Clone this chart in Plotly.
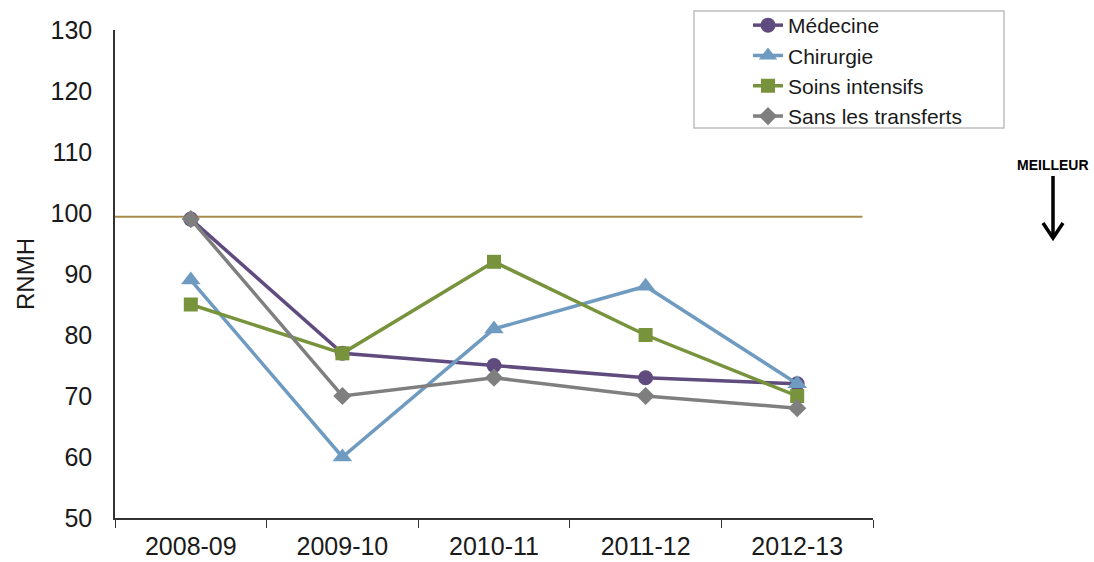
import plotly.graph_objects as go

categories = ["2008-09", "2009-10", "2010-11", "2011-12", "2012-13"]
medecine = [99, 77, 75, 73, 72]
chirurgie = [89, 60, 81, 88, 72]
soins_intensifs = [85, 77, 92, 80, 70]
sans_transferts = [99, 70, 73, 70, 68]
ref_level = 99.4
y_ticks = [50, 60, 70, 80, 90, 100, 110, 120, 130]

series = [
    ("Médecine", medecine, "#5F4B7E", "circle", 15),
    ("Chirurgie", chirurgie, "#6F9BC0", "triangle-up", 17),
    ("Soins intensifs", soins_intensifs, "#77933C", "square", 14),
    ("Sans les transferts", sans_transferts, "#7F7F7F", "diamond", 14),
]

W, H = 1094, 562
L, R, T, B = 115, 873, 30, 518

def px(x):
    return (x - L) / (R - L)

def py(y):
    return (B - y) / (B - T)

fig = go.Figure()
for name, vals, color, sym, size in series:
    fig.add_trace(go.Scatter(
        x=categories, y=vals, name=name, mode="lines+markers",
        line=dict(color=color, width=3.5),
        marker=dict(symbol=sym, size=size, color=color),
    ))

# reference line
fig.add_shape(type="line", xref="x", yref="y", x0=-0.5, x1=4.43,
              y0=ref_level, y1=ref_level, line=dict(color="#A88A4A", width=2), layer="below")

# legend box
fig.add_shape(type="rect", xref="paper", yref="paper",
              x0=px(694), x1=px(1004), y0=py(11), y1=py(128),
              line=dict(color="#BFBFBF", width=1.5), fillcolor="white", layer="below")

# arrow "MEILLEUR"
fig.add_shape(type="line", xref="paper", yref="paper",
              x0=px(1053), x1=px(1053), y0=py(176), y1=py(237),
              line=dict(color="black", width=3.5))
fig.add_shape(type="path", xref="paper", yref="paper",
              path=f"M {px(1043)} {py(223)} L {px(1053)} {py(238)} L {px(1063)} {py(223)}",
              line=dict(color="black", width=3.5))
fig.add_annotation(text="<b>MEILLEUR</b>", xref="paper", yref="paper",
                   x=px(1053), y=py(165), showarrow=False,
                   xanchor="center", yanchor="middle",
                   font=dict(family="Liberation Sans, Arial", size=14, color="black"))

# y axis title
fig.add_annotation(text="RNMH", xref="paper", yref="paper", x=px(25), y=py(274),
                   textangle=-90, showarrow=False, xanchor="center", yanchor="middle",
                   font=dict(family="Liberation Sans, Arial", size=24, color="#1a1a1a"))

fig.update_layout(
    width=W, height=H,
    margin=dict(l=L, r=W - R, t=T, b=H - B, autoexpand=False),
    plot_bgcolor="white", paper_bgcolor="white",
    font=dict(family="Liberation Sans, Arial", color="#1a1a1a"),
    showlegend=True,
    legend=dict(x=748 / W, y=1 - 5 / H, xref="container", yref="container",
                xanchor="left", yanchor="top",
                bgcolor="rgba(0,0,0,0)", borderwidth=0,
                font=dict(size=21, color="#1a1a1a"), tracegroupgap=0),
    xaxis=dict(type="category", range=[-0.5, 4.5], showgrid=False,
               showline=True, linecolor="#333333", linewidth=1.5,
               ticks="outside", tickson="boundaries", ticklen=8, tickcolor="#333333",
               ticklabelstandoff=5,
               tickfont=dict(size=25), zeroline=False, fixedrange=True),
    yaxis=dict(range=[50, 130], tickvals=y_ticks, showgrid=False,
               showline=True, linecolor="#333333", linewidth=1.5,
               ticks="", ticklabelstandoff=16, tickfont=dict(size=25),
               zeroline=False, fixedrange=True),
)

fig.write_html("out.html")
